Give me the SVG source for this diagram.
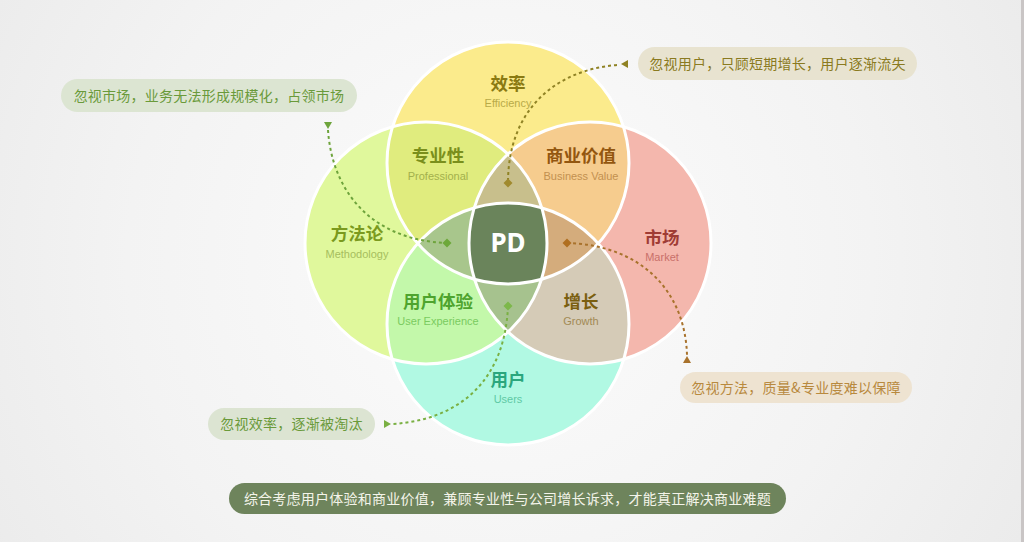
<svg xmlns="http://www.w3.org/2000/svg" width="1024" height="542" viewBox="0 0 1024 542">
  <defs>
    <radialGradient id="bg" cx="500" cy="260" r="620" gradientUnits="userSpaceOnUse">
      <stop offset="0" stop-color="#FCFCFC"/>
      <stop offset="0.6" stop-color="#F3F3F3"/>
      <stop offset="1" stop-color="#EAEAEA"/>
    </radialGradient>
    <clipPath id="cTop"><circle cx="508" cy="163" r="121"/></clipPath>
    <clipPath id="cLeft"><circle cx="426" cy="243" r="121"/></clipPath>
    <clipPath id="cRight"><circle cx="590" cy="243" r="121"/></clipPath>
    <clipPath id="cBottom"><circle cx="508" cy="324" r="121"/></clipPath>
    <circle id="top" cx="508" cy="163" r="121"/>
    <circle id="left" cx="426" cy="243" r="121"/>
    <circle id="right" cx="590" cy="243" r="121"/>
    <circle id="bottom" cx="508" cy="324" r="121"/>
    <path id="dia" d="M0,-4.5 L4.5,0 L0,4.5 L-4.5,0 Z"/>
  </defs>
  <style>
    .zh { font-family: "Noto Sans CJK SC", "Noto Sans", sans-serif; font-weight: 700; font-size: 17.5px; text-anchor: middle; }
    .en { font-family: "Liberation Sans", "Noto Sans", sans-serif; font-size: 11px; text-anchor: middle; }
    .tip { font-family: "Noto Sans CJK SC", "Noto Sans", sans-serif; font-size: 14px; letter-spacing: 0.25px; text-anchor: middle; }
    .edge { fill: none; stroke: #FFFFFF; stroke-width: 3; }
    .dash { fill: none; stroke-width: 2; stroke-dasharray: 3 3; }
  </style>

  <rect x="0" y="0" width="1024" height="542" fill="url(#bg)"/>
  <rect x="1021" y="0" width="3" height="542" fill="#C9C5C5"/>

  <g id="venn">
    <use href="#top" fill="#FBEB8C"/>
    <use href="#left" fill="#E0F89C"/>
    <use href="#right" fill="#F4B7AD"/>
    <use href="#bottom" fill="#B1F9E3"/>
    <use href="#left" fill="#E0EC7E" clip-path="url(#cTop)"/>
    <use href="#right" fill="#F6CC8E" clip-path="url(#cTop)"/>
    <use href="#left" fill="#C3F8AA" clip-path="url(#cBottom)"/>
    <use href="#right" fill="#D5CBB7" clip-path="url(#cBottom)"/>
    <g clip-path="url(#cTop)"><use href="#left" fill="#C8BF8C" clip-path="url(#cRight)"/></g>
    <g clip-path="url(#cTop)"><use href="#left" fill="#A8C68C" clip-path="url(#cBottom)"/></g>
    <g clip-path="url(#cTop)"><use href="#right" fill="#D4AC7C" clip-path="url(#cBottom)"/></g>
    <g clip-path="url(#cBottom)"><use href="#left" fill="#A6C28E" clip-path="url(#cRight)"/></g>
    <g clip-path="url(#cTop)"><g clip-path="url(#cBottom)"><use href="#left" fill="#6A845B" clip-path="url(#cRight)"/></g></g>
    <use href="#top" class="edge"/>
    <use href="#left" class="edge"/>
    <use href="#right" class="edge"/>
    <use href="#bottom" class="edge"/>
  </g>

  <g id="label-efficiency">
    <text class="zh" x="508" y="90" fill="#8A7A12">效率</text>
    <text class="en" x="508" y="107" fill="#B8AA48">Efficiency</text>
  </g>
  <g id="label-professional">
    <text class="zh" x="438" y="162" fill="#7A8F1C">专业性</text>
    <text class="en" x="438" y="180" fill="#A3B04C">Professional</text>
  </g>
  <g id="label-business">
    <text class="zh" x="581" y="162" fill="#93560F">商业价值</text>
    <text class="en" x="581" y="180" fill="#C29050">Business Value</text>
  </g>
  <g id="label-methodology">
    <text class="zh" x="357" y="240" fill="#7B9A1E">方法论</text>
    <text class="en" x="357" y="258" fill="#A6BE5E">Methodology</text>
  </g>
  <g id="label-market">
    <text class="zh" x="662" y="244" fill="#A03C35">市场</text>
    <text class="en" x="662" y="261" fill="#C9706A">Market</text>
  </g>
  <g id="label-ux">
    <text class="zh" x="438" y="308" fill="#4EA42E">用户体验</text>
    <text class="en" x="438" y="325" fill="#7ACB60">User Experience</text>
  </g>
  <g id="label-growth">
    <text class="zh" x="581" y="308" fill="#7A5F10">增长</text>
    <text class="en" x="581" y="325" fill="#A28A55">Growth</text>
  </g>
  <g id="label-users">
    <text class="zh" x="508" y="386" fill="#2BA67D">用户</text>
    <text class="en" x="508" y="403" fill="#5FC9A5">Users</text>
  </g>
  <g id="label-pd">
    <text x="508" y="252" fill="#FFFFFF" font-family="'Noto Sans', 'Open Sans', sans-serif" font-weight="700" font-size="26" text-anchor="middle">PD</text>
  </g>

  <g id="connectors">
    <path class="dash" stroke="#6EA43C" d="M328,130 C332,190 370,240 447,243"/>
    <polygon points="324,122 332,122 328,129" fill="#6EA43C"/>
    <use href="#dia" x="447" y="243" fill="#6DA83A"/>

    <path class="dash" stroke="#8F8224" d="M617,65 C555,70 508,110 508,183"/>
    <polygon points="628,60 628,68 621,64" fill="#8F8224"/>
    <use href="#dia" x="508" y="183" fill="#A08A2E"/>

    <path class="dash" stroke="#A8722C" d="M567,243 C640,245 685,290 687,355"/>
    <polygon points="683,363 691,363 687,356" fill="#A8722C"/>
    <use href="#dia" x="567" y="243" fill="#B06F20"/>

    <path class="dash" stroke="#7AB043" d="M508,306 C505,380 460,420 392,424"/>
    <polygon points="384,420 384,428 391,424" fill="#7AB043"/>
    <use href="#dia" x="508" y="306" fill="#7DB84A"/>
  </g>

  <g id="tip-market">
    <rect x="61" y="79" width="296" height="33" rx="16.5" fill="#DCE5D2"/>
    <text class="tip" x="209" y="101" fill="#6A9A3A">忽视市场，业务无法形成规模化，占领市场</text>
  </g>
  <g id="tip-users">
    <rect x="638" y="47" width="279" height="33" rx="16.5" fill="#E8E3D0"/>
    <text class="tip" x="777.5" y="68.5" fill="#8A7A20">忽视用户，只顾短期增长，用户逐渐流失</text>
  </g>
  <g id="tip-method">
    <rect x="680" y="372" width="232" height="31" rx="15.5" fill="#EEE3D1"/>
    <text class="tip" x="796" y="392.5" fill="#B8893E">忽视方法，质量&amp;专业度难以保障</text>
  </g>
  <g id="tip-efficiency">
    <rect x="208" y="408" width="167" height="32" rx="16" fill="#DCE4D2"/>
    <text class="tip" x="291.5" y="429" fill="#6A9A3A">忽视效率，逐渐被淘汰</text>
  </g>
  <g id="summary">
    <rect x="229" y="483" width="557" height="31" rx="15.5" fill="#6E845C"/>
    <text class="tip" x="507.5" y="503.5" fill="#F4F4EA">综合考虑用户体验和商业价值，兼顾专业性与公司增长诉求，才能真正解决商业难题</text>
  </g>
</svg>
